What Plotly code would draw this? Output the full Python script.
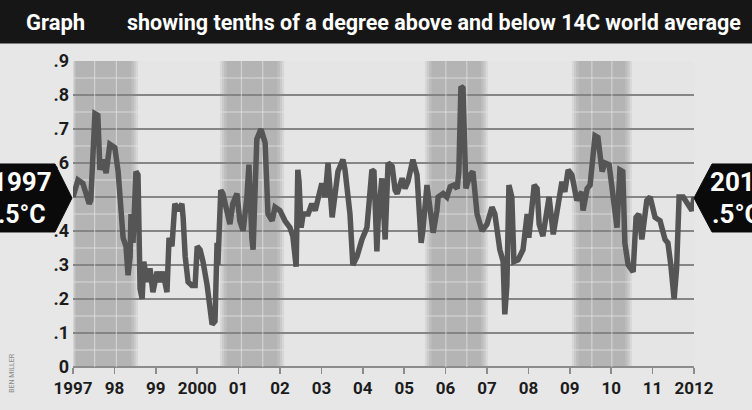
import plotly.graph_objects as go

# ---- data ----
years = [1997.00, 1997.12, 1997.24, 1997.39, 1997.43, 1997.53, 1997.60, 1997.63, 1997.65, 1997.72,
         1997.80, 1997.89, 1998.01, 1998.09, 1998.21, 1998.28, 1998.33, 1998.38, 1998.40, 1998.45,
         1998.52, 1998.57, 1998.62, 1998.67, 1998.71, 1998.79, 1998.86, 1998.93, 1999.03, 1999.10,
         1999.17, 1999.27, 1999.32, 1999.39, 1999.46, 1999.54, 1999.63, 1999.66, 1999.71, 1999.78,
         1999.87, 1999.95, 2000.00, 2000.07, 2000.14, 2000.24, 2000.31, 2000.36, 2000.43, 2000.48,
         2000.50, 2000.57, 2000.62, 2000.72, 2000.79, 2000.86, 2000.96, 2001.03, 2001.11, 2001.20,
         2001.25, 2001.32, 2001.35, 2001.44, 2001.54, 2001.59, 2001.64, 2001.71, 2001.81, 2001.88,
         2002.00, 2002.12, 2002.24, 2002.31, 2002.39, 2002.43, 2002.46, 2002.51, 2002.56, 2002.68,
         2002.77, 2002.85, 2002.92, 2003.01, 2003.09, 2003.16, 2003.26, 2003.33, 2003.40, 2003.52,
         2003.57, 2003.69, 2003.76, 2003.86, 2003.98, 2004.10, 2004.22, 2004.27, 2004.34, 2004.37,
         2004.46, 2004.54, 2004.61, 2004.71, 2004.78, 2004.83, 2004.95, 2005.02, 2005.09, 2005.21,
         2005.31, 2005.41, 2005.45, 2005.55, 2005.62, 2005.70, 2005.79, 2005.82, 2005.94, 2006.03,
         2006.11, 2006.20, 2006.28, 2006.32, 2006.37, 2006.42, 2006.49, 2006.59, 2006.66, 2006.76,
         2006.88, 2007.00, 2007.12, 2007.19, 2007.31, 2007.39, 2007.43, 2007.48, 2007.53, 2007.60,
         2007.65, 2007.75, 2007.87, 2007.97, 2008.01, 2008.14, 2008.21, 2008.26, 2008.35, 2008.43,
         2008.50, 2008.60, 2008.69, 2008.81, 2008.88, 2008.96, 2009.05, 2009.17, 2009.29, 2009.32,
         2009.42, 2009.49, 2009.61, 2009.68, 2009.78, 2009.85, 2009.95, 2010.04, 2010.14, 2010.21,
         2010.28, 2010.33, 2010.41, 2010.53, 2010.60, 2010.67, 2010.74, 2010.86, 2010.94, 2011.06,
         2011.18, 2011.30, 2011.37, 2011.44, 2011.52, 2011.58, 2011.64, 2011.74, 2011.86, 2011.95,
         2012.00]
anomaly = [0.50, 0.55, 0.54, 0.48, 0.49, 0.745, 0.74, 0.61, 0.58, 0.61,
           0.57, 0.655, 0.645, 0.575, 0.38, 0.355, 0.27, 0.325, 0.45, 0.365,
           0.575, 0.565, 0.23, 0.20, 0.31, 0.25, 0.29, 0.22, 0.28, 0.25,
           0.28, 0.22, 0.38, 0.355, 0.48, 0.46, 0.48, 0.44, 0.325, 0.25,
           0.24, 0.24, 0.355, 0.345, 0.31, 0.24, 0.155, 0.125, 0.135, 0.365,
           0.30, 0.52, 0.51, 0.46, 0.42, 0.48, 0.51, 0.43, 0.40, 0.50,
           0.595, 0.38, 0.345, 0.67, 0.70, 0.68, 0.66, 0.45, 0.43, 0.47,
           0.46, 0.43, 0.41, 0.385, 0.295, 0.58, 0.545, 0.41, 0.45, 0.45,
           0.48, 0.46, 0.49, 0.54, 0.50, 0.60, 0.44, 0.50, 0.575, 0.61,
           0.58, 0.45, 0.30, 0.325, 0.375, 0.41, 0.58, 0.575, 0.34, 0.43,
           0.555, 0.375, 0.60, 0.59, 0.52, 0.51, 0.555, 0.525, 0.545, 0.61,
           0.565, 0.365, 0.40, 0.535, 0.46, 0.395, 0.46, 0.50, 0.51, 0.50,
           0.53, 0.535, 0.525, 0.575, 0.825, 0.82, 0.525, 0.565, 0.575, 0.45,
           0.40, 0.42, 0.47, 0.45, 0.345, 0.31, 0.155, 0.24, 0.535, 0.50,
           0.31, 0.315, 0.345, 0.45, 0.38, 0.535, 0.525, 0.42, 0.385, 0.45,
           0.50, 0.39, 0.46, 0.545, 0.515, 0.58, 0.565, 0.49, 0.515, 0.46,
           0.525, 0.535, 0.68, 0.675, 0.575, 0.60, 0.595, 0.50, 0.41, 0.58,
           0.575, 0.365, 0.30, 0.28, 0.44, 0.45, 0.375, 0.49, 0.50, 0.44,
           0.43, 0.375, 0.365, 0.30, 0.20, 0.29, 0.50, 0.50, 0.48, 0.46,
           0.50]

band_starts = [1997.0, 2000.55, 2005.5, 2009.05]
band_ends = [1998.57, 2002.1, 2007.02, 2010.5]

x_tickvals = list(range(1997, 2013))
x_ticktext = ["1997", "98", "99", "2000", "01", "02", "03", "04", "05", "06",
              "07", "08", "09", "10", "11", "2012"]
y_tickvals = [0, 0.1, 0.2, 0.3, 0.4, 0.5, 0.6, 0.7, 0.8, 0.9]
y_ticktext = ["0", ".1", ".2", ".3", ".4", ".5", ".6", ".7", ".8", ".9"]

title_left = "Graph"
title_right = "showing tenths of a degree above and below 14C world average"
start_label = ["1997", ".5°C"]
end_label = ["2012", ".5°C"]
credit = "BEN MILLER"

# ---- layout geometry ----
W, H = 752, 410
L, R, T, B = 73, 694, 61, 376
FONT = "Roboto, Liberation Sans, sans-serif"


def px(x):
    return (x - L) / (R - L)


def py(y):
    return (B - y) / (B - T)


shapes = []
# shaded bands with soft edges
for s, e in zip(band_starts, band_ends):
    w = e - s
    for inset, op in [(0.0, 0.06), (0.05, 0.06), (0.10, 0.06), (0.16, 0.05)]:
        shapes.append(dict(type="rect", xref="x", yref="y",
                           x0=s + (inset * 0.4 if s == 1997.0 else inset),
                           x1=e - inset, y0=0, y1=0.9, fillcolor="black", opacity=op,
                           line_width=0, layer="below"))
    # white vertical dividers
    for f in (1 / 3, 2 / 3):
        shapes.append(dict(type="line", xref="x", yref="y", x0=s + f * w, x1=s + f * w,
                           y0=0, y1=0.9, line=dict(color="rgba(232,232,232,0.7)", width=1),
                           layer="between"))
    # white half-step lines
    for k in range(9):
        yv = 0.05 + 0.1 * k
        shapes.append(dict(type="line", xref="x", yref="y", x0=s, x1=e, y0=yv, y1=yv,
                           line=dict(color="rgba(232,232,232,0.7)", width=1), layer="between"))

# title bar
shapes.append(dict(type="rect", xref="paper", yref="paper", x0=px(-2), x1=px(W + 2), y0=py(43), y1=py(-2),
                   fillcolor="#161616", line_width=0, layer="above"))
# start / end arrow boxes
left_box = [(-5, 167), (55, 167), (72, 202), (55, 237), (-5, 237)]
right_box = [(760, 167), (712, 167), (694, 202), (712, 237), (760, 237)]
for poly in (left_box, right_box):
    path = "M " + " L ".join(f"{px(a):.5f},{py(b):.5f}" for a, b in poly) + " Z"
    shapes.append(dict(type="path", xref="paper", yref="paper", path=path,
                       fillcolor="#0a0a0a", line=dict(color="#0a0a0a", width=1), layer="above"))

annotations = [
    dict(text=title_left, x=px(24), y=py(21), xref="paper", yref="paper",
         xanchor="left", yanchor="middle", showarrow=False,
         font=dict(family=FONT, size=22, color="white", weight=700)),
    dict(text=title_right, x=px(125), y=py(21), xref="paper", yref="paper",
         xanchor="left", yanchor="middle", showarrow=False,
         font=dict(family=FONT, size=21.5, color="white", weight=700)),
    dict(text=start_label[0], x=px(54), y=py(186), xref="paper", yref="paper",
         xanchor="right", yanchor="middle", showarrow=False,
         font=dict(family=FONT, size=26, color="white", weight=700)),
    dict(text=start_label[1], x=px(48), y=py(219), xref="paper", yref="paper",
         xanchor="right", yanchor="middle", showarrow=False,
         font=dict(family=FONT, size=25, color="white", weight=700)),
    dict(text=end_label[0], x=px(708), y=py(186), xref="paper", yref="paper",
         xanchor="left", yanchor="middle", showarrow=False,
         font=dict(family=FONT, size=26, color="white", weight=700)),
    dict(text=end_label[1], x=px(710), y=py(219), xref="paper", yref="paper",
         xanchor="left", yanchor="middle", showarrow=False,
         font=dict(family=FONT, size=26, color="white", weight=700)),
    dict(text=credit, x=px(12), y=py(382), xref="paper", yref="paper",
         xanchor="center", yanchor="middle", showarrow=False, textangle=-90,
         font=dict(family=FONT, size=7, color="#8a8a8a")),
]

fig = go.Figure()
fig.add_trace(go.Scatter(x=years, y=anomaly, mode="lines",
                         line=dict(color="#555555", width=5.5), hoverinfo="skip"))

fig.update_layout(
    width=W, height=H,
    margin=dict(l=L, r=W - R, t=T, b=H - B, pad=0),
    paper_bgcolor="#e7e7e7", plot_bgcolor="#e5e5e5",
    showlegend=False,
    shapes=shapes, annotations=annotations,
    font=dict(family=FONT, color="#1c1c1c"),
    xaxis=dict(range=[1997, 2012], tickvals=x_tickvals, ticktext=x_ticktext,
               showgrid=False, zeroline=False, showline=False,
               ticks="outside", ticklen=6, tickwidth=1.5, tickcolor="#8c8c8c",
               tickfont=dict(family=FONT, size=17, color="#1c1c1c", weight=700), fixedrange=True),
    yaxis=dict(range=[0, 0.9], tickvals=y_tickvals, ticktext=y_ticktext,
               showgrid=True, gridcolor="#858585", gridwidth=1.8,
               zeroline=True, zerolinecolor="#8c8c8c", zerolinewidth=2,
               showline=False, ticks="", ticklabelstandoff=3,
               tickfont=dict(family=FONT, size=18, color="#1c1c1c", weight=700), fixedrange=True),
)

fig.write_html("out.html", config={"displayModeBar": False, "staticPlot": True},
               post_script="document.body.style.margin='0';document.body.style.background='#e7e7e7';")
